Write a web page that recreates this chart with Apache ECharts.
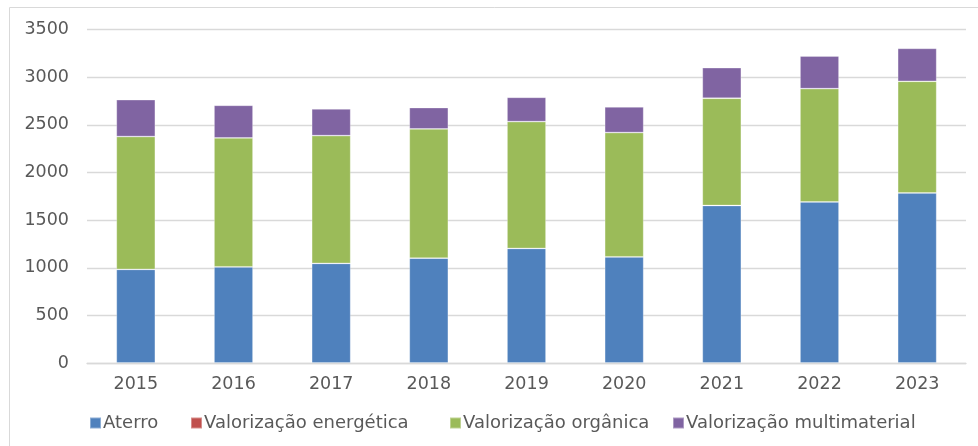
<!DOCTYPE html>
<html>
<head>
<meta charset="utf-8">
<script src="https://cdn.jsdelivr.net/npm/echarts@6/dist/echarts.min.js"></script>
<style>
  html, body { margin: 0; padding: 0; background: #fff; }
  #chart { width: 978px; height: 446px; }
</style>
</head>
<body>
<div id="chart"></div>
<script>
// Treatment destinations per year (thousand tonnes)
const years = ['2015', '2016', '2017', '2018', '2019', '2020', '2021', '2022', '2023'];
const aterro = [983, 1010, 1046, 1101, 1203, 1115, 1654, 1692, 1786];
const valorizacaoEnergetica = [0, 0, 0, 0, 0, 0, 0, 0, 0];
const valorizacaoOrganica = [1395, 1353, 1342, 1357, 1332, 1305, 1126, 1189, 1172];
const valorizacaoMultimaterial = [387, 343, 280, 224, 255, 269, 321, 343, 346];
const yTicks = [0, 500, 1000, 1500, 2000, 2500, 3000, 3500];

const seriesNames = ['Aterro', 'Valorização energética', 'Valorização orgânica', 'Valorização multimaterial'];
const seriesData = [aterro, valorizacaoEnergetica, valorizacaoOrganica, valorizacaoMultimaterial];
const colors = ['#4F81BD', '#C0504D', '#9BBB59', '#8064A2'];
const legendLeft = [89, 190, 449, 672];

const FONT = 'DejaVu Sans';
const TEXT = '#595959';
const FS = 17.5;

const chart = echarts.init(document.getElementById('chart'), null, { renderer: 'canvas' });

chart.setOption({
  animation: false,
  color: colors,
  graphic: [{
    type: 'rect',
    shape: { x: 9.5, y: 7.5, width: 1100, height: 1100 },
    style: { fill: 'none', stroke: '#d9d9d9', lineWidth: 1 },
    silent: true,
    z: -1
  }],
  grid: { left: 87, right: 12, top: 29.7, bottom: 83, containLabel: false },
  legend: seriesNames.map((name, i) => ({
    data: [name],
    left: legendLeft[i],
    top: 414,
    icon: 'rect',
    itemWidth: 11,
    itemHeight: 11,
    padding: 0,
    textStyle: { color: TEXT, fontFamily: FONT, fontSize: 18, padding: [0, 0, 0, -3] },
    selectedMode: false
  })),
  xAxis: {
    type: 'category',
    data: years,
    axisLine: { lineStyle: { color: '#d9d9d9', width: 1.3 } },
    axisTick: { show: false },
    axisLabel: { color: TEXT, fontFamily: FONT, fontSize: FS, margin: 12 }
  },
  yAxis: {
    type: 'value',
    min: yTicks[0],
    max: yTicks[yTicks.length - 1],
    interval: 500,
    axisLine: { show: false },
    axisTick: { show: false },
    axisLabel: {
      color: TEXT, fontFamily: FONT, fontSize: FS, margin: 18,
      formatter: (v) => String(v)
    },
    splitLine: { lineStyle: { color: '#d9d9d9', width: 1.3 } }
  },
  series: seriesNames.map((name, i) => ({
    name: name,
    type: 'bar',
    stack: 'total',
    barWidth: 39,
    data: seriesData[i],
    itemStyle: {
      color: colors[i],
      borderColor: 'rgba(255,255,255,0.35)',
      borderWidth: 0.8
    }
  }))
});
</script>
</body>
</html>
